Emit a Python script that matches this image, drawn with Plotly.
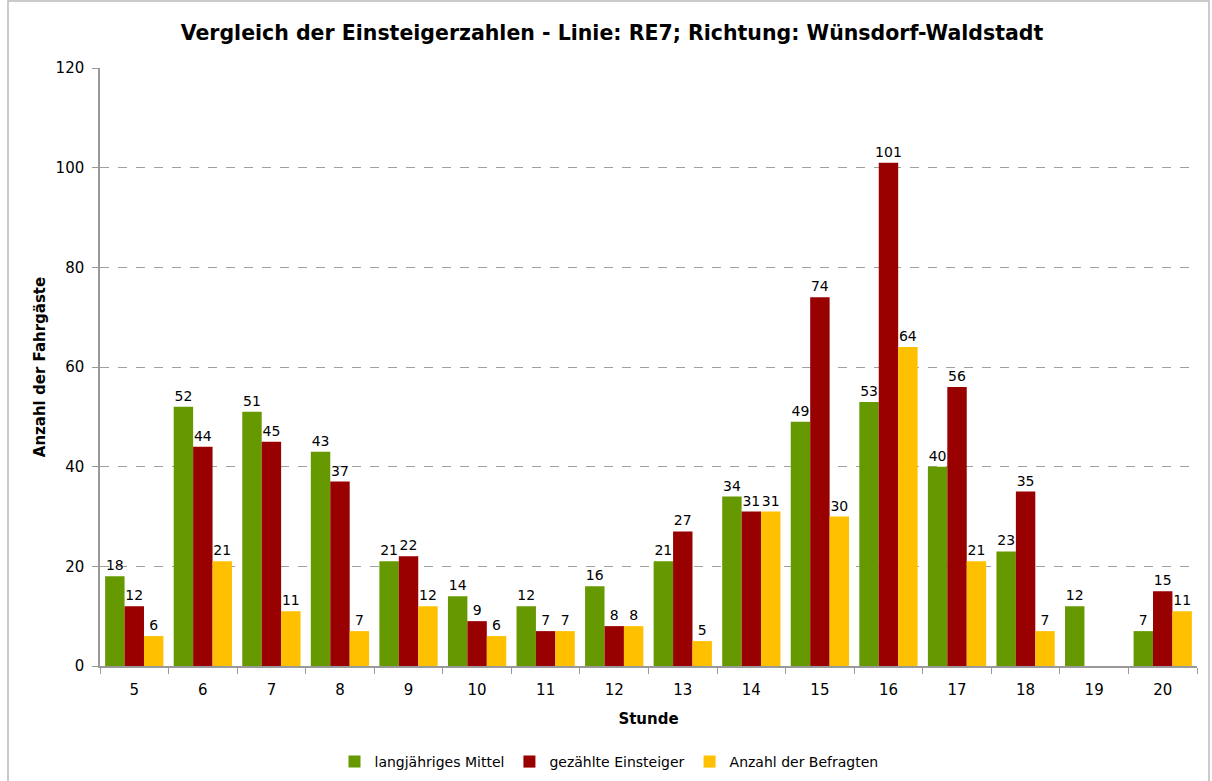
import plotly.graph_objects as go

stunden = ["5", "6", "7", "8", "9", "10", "11", "12", "13", "14", "15", "16", "17", "18", "19", "20"]
mittel = [18, 52, 51, 43, 21, 14, 12, 16, 21, 34, 49, 53, 40, 23, 12, 7]
einsteiger = [12, 44, 45, 37, 22, 9, 7, 8, 27, 31, 74, 101, 56, 35, None, 15]
befragte = [6, 21, 11, 7, 12, 6, 7, 8, 5, 31, 30, 64, 21, 7, None, 11]

FONT = "DejaVu Sans"
W, H = 1212, 781
ML, MR, MT, MB = 100, 15, 68, 115

fig = go.Figure()
for name, vals, col in [
    ("langjähriges Mittel", mittel, "#669900"),
    ("gezählte Einsteiger", einsteiger, "#990000"),
    ("Anzahl der Befragten", befragte, "#FFC000"),
]:
    fig.add_trace(go.Bar(
        x=stunden, y=vals, name=name, marker_color=col,
        marker_line_width=0,
        text=[("" if v is None else str(v)) for v in vals],
        textposition="outside", cliponaxis=False, constraintext="none",
        textfont=dict(family=FONT, size=14, color="#000000"),
    ))

pw = W - ML - MR
ph = H - MT - MB
fig.update_layout(
    width=W, height=H,
    margin=dict(l=ML, r=MR, t=MT, b=MB, autoexpand=False),
    paper_bgcolor="white", plot_bgcolor="white",
    barmode="group", bargap=0.15, bargroupgap=0,
    font=dict(family=FONT, size=14, color="#000000"),
    title=dict(text="<b>Vergleich der Einsteigerzahlen - Linie: RE7; Richtung: Wünsdorf-Waldstadt</b>",
               x=(612 - 0) / W, xanchor="center", y=1 - 33 / H, yanchor="middle",
               font=dict(family=FONT, size=20.5, color="#000000")),
    showlegend=True,
    legend=dict(orientation="h", x=(609 - ML) / pw, xanchor="center", y=-(762 - MT - ph) / ph, yanchor="middle",
                font=dict(family=FONT, size=14, color="#000000"), itemwidth=30,
                traceorder="normal"),
    shapes=[dict(type="rect", xref="paper", yref="paper",
                 x0=(8 - ML) / pw, x1=(1209 - ML) / pw,
                 y0=1 + (MT - 1) / ph, y1=-(785 - MT - ph) / ph,
                 line=dict(color="#BBBBBB", width=1.5), fillcolor="rgba(0,0,0,0)", layer="below")],
)
fig.update_xaxes(
    type="category", tickson="boundaries", ticks="outside", ticklen=6, tickcolor="#999999",
    showline=True, linecolor="#999999", linewidth=1.5, automargin=False,
    tickfont=dict(family=FONT, size=15), showgrid=False, ticklabelstandoff=9,
    title=dict(text="<b>Stunde</b>", font=dict(family=FONT, size=15), standoff=16),
)
fig.update_yaxes(
    range=[0, 120], dtick=20, ticks="outside", ticklen=6, tickcolor="#999999",
    showline=True, linecolor="#999999", linewidth=1.5, automargin=False,
    showgrid=True, gridcolor="#A0A0A0", griddash="dash", gridwidth=1,
    zeroline=False, ticklabelstandoff=5,
    tickfont=dict(family=FONT, size=15),
    title=dict(text="<b>Anzahl der Fahrgäste</b>", font=dict(family=FONT, size=15), standoff=6),
)

fig.write_html("out.html", config={"displayModeBar": False},
               post_script="document.body.style.margin='0';document.body.style.overflow='hidden';")
